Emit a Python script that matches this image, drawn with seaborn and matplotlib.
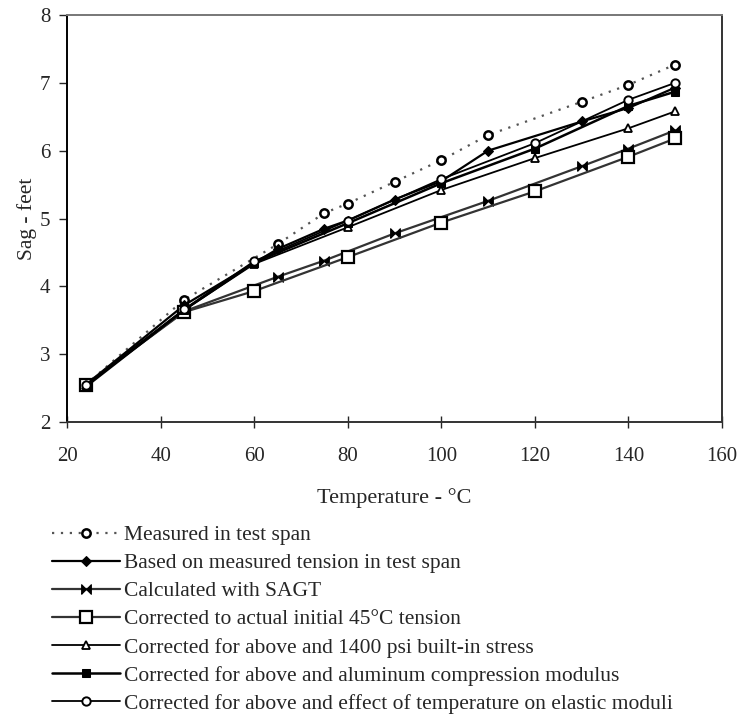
import matplotlib
matplotlib.use("Agg")
import matplotlib.pyplot as plt
import seaborn as sns
import pandas as pd

# ---- data ----
t_meas = [24, 45, 65, 75, 80, 90, 100, 110, 130, 140, 150]
measured = [2.55, 3.80, 4.62, 5.08, 5.22, 5.54, 5.86, 6.23, 6.72, 6.97, 7.27]
based_tension = [2.55, 3.72, 4.55, 4.85, 4.97, 5.28, 5.55, 6.00, 6.43, 6.63, 6.93]

t_sagt = [24, 45, 65, 75, 90, 110, 130, 140, 150]
sagt = [2.55, 3.63, 4.14, 4.38, 4.78, 5.26, 5.77, 6.03, 6.30]

t_calc = [24, 45, 60, 80, 100, 120, 140, 150]
corr_initial = [2.55, 3.62, 3.93, 4.43, 4.94, 5.40, 5.91, 6.18]
corr_builtin = [2.55, 3.65, 4.33, 4.87, 5.42, 5.89, 6.33, 6.58]
corr_alum = [2.52, 3.65, 4.35, 4.93, 5.52, 6.03, 6.66, 6.87]
corr_elastic = [2.55, 3.66, 4.37, 4.97, 5.58, 6.11, 6.75, 7.00]

labels = [
    "Measured in test span",
    "Based on measured tension in test span",
    "Calculated with SAGT",
    "Corrected to actual initial 45\u00b0C tension",
    "Corrected for above and 1400 psi built-in stress",
    "Corrected for above and aluminum compression modulus",
    "Corrected for above and effect of temperature on elastic moduli",
]

xticks = [20, 40, 60, 80, 100, 120, 140, 160]
yticks = [2, 3, 4, 5, 6, 7, 8]

sns.set_style("ticks")
plt.rcParams["font.family"] = ["Liberation Serif", "DejaVu Serif"]

fig = plt.figure(figsize=(7.46, 7.18), dpi=100)
ax = fig.add_axes([67 / 746, 1 - 422 / 718, (722 - 67) / 746, (422 - 15) / 718])

bowtie = [(-1, -1), (-1, 1), (1, -1), (1, 1), (-1, -1)]

series = [
    (t_meas, measured, dict(color="#555555", linestyle=(0, (1, 3)), linewidth=1.6,
                            marker="o", markersize=6, markerfacecolor="white",
                            markeredgecolor="black", markeredgewidth=1.8)),
    (t_meas, based_tension, dict(color="black", linestyle="-", linewidth=1.6,
                                 marker="D", markersize=5, markerfacecolor="black",
                                 markeredgecolor="black")),
    (t_sagt, sagt, dict(color="#333333", linestyle="-", linewidth=1.6,
                        marker=bowtie, markersize=7, markerfacecolor="black",
                        markeredgecolor="black")),
    (t_calc, corr_initial, dict(color="#333333", linestyle="-", linewidth=1.6,
                                marker="s", markersize=8, markerfacecolor="white",
                                markeredgecolor="black", markeredgewidth=1.6)),
    (t_calc, corr_builtin, dict(color="black", linestyle="-", linewidth=1.3,
                                marker="^", markersize=6, markerfacecolor="white",
                                markeredgecolor="black", markeredgewidth=1.3)),
    (t_calc, corr_alum, dict(color="black", linestyle="-", linewidth=1.8,
                             marker="s", markersize=6, markerfacecolor="black",
                             markeredgecolor="black")),
    (t_calc, corr_elastic, dict(color="black", linestyle="-", linewidth=1.3,
                                marker="o", markersize=6, markerfacecolor="white",
                                markeredgecolor="black", markeredgewidth=1.4)),
]

for (tx, vy, style), lab in zip(series, labels):
    df = pd.DataFrame({"T": tx, "S": vy})
    sns.lineplot(data=df, x="T", y="S", ax=ax, estimator=None, sort=False,
                 label=lab, **style)

ax.set_xlim(20, 160)
ax.set_ylim(2, 8)
ax.set_xticks(xticks)
ax.set_yticks(yticks)
ax.tick_params(axis="x", direction="inout", length=8, width=1, labelsize=15, pad=14)
ax.tick_params(axis="y", direction="out", length=6, width=1, labelsize=15, pad=6)
for s in ax.spines.values():
    s.set_visible(True)
    s.set_color("#333333")
    s.set_linewidth(1.4)
ax.spines["top"].set_color("#777777")
ax.spines["left"].set_color("black")

ax.set_xlabel("Temperature - \u00b0C", fontsize=16, labelpad=16)
ax.set_ylabel("Sag - feet", fontsize=15.5, labelpad=2)

ax.legend_.remove()
handles, labs = ax.get_legend_handles_labels()
fig.legend(handles, labs, loc="upper left", bbox_to_anchor=(52 / 746, 1 - 525 / 718),
           frameon=False, fontsize=15.5, handlelength=3.15, handletextpad=0.18,
           labelspacing=0.375, borderaxespad=0, borderpad=0)

fig.savefig("out.png", dpi=100)
